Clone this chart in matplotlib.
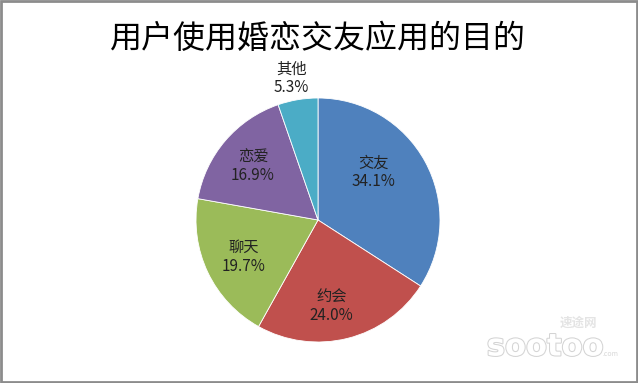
import numpy as np
import matplotlib
matplotlib.use("Agg")
import matplotlib.pyplot as plt
import matplotlib.patheffects as pe
from matplotlib.patches import Rectangle

plt.rcParams['font.family'] = ['Noto Sans CJK SC', 'DejaVu Sans']

# data
categories = ['交友', '约会', '聊天', '恋爱', '其他']
shares = [34.1, 24.0, 19.7, 16.9, 5.3]
colors = ['#4F81BD', '#C0504D', '#9BBB59', '#8064A2', '#4BACC6']
title = '用户使用婚恋交友应用的目的'

# label placement (radial fraction, angle tweak in degrees)
label_dist = [0.60, 0.72, 0.68, 0.69, 1.18]
label_turn = [12, -5, 1, 1, 1]

fig = plt.figure(figsize=(6.38, 3.83), dpi=100)
W, H = 638, 383
cx, cy, r = 318, 220, 122
ax = fig.add_axes([(cx - r) / W, (H - cy - r) / H, 2 * r / W, 2 * r / H])

wedges, _ = ax.pie(shares, colors=colors, startangle=90, counterclock=False,
                   radius=1, wedgeprops=dict(edgecolor='white', linewidth=0.6))
ax.set_xlim(-1, 1)
ax.set_ylim(-1, 1)
ax.set_aspect('equal')
ax.axis('off')

for w, name, val, d, t in zip(wedges, categories, shares, label_dist, label_turn):
    ang = np.deg2rad((w.theta1 + w.theta2) / 2 + t)
    ax.text(d * np.cos(ang), d * np.sin(ang), f'{name}\n{val:.1f}%',
            ha='center', va='center', fontsize=11, color='#222222',
            linespacing=1.1, clip_on=False)

fig.text(318 / W, 1 - 39 / H, title, ha='center', va='center', fontsize=23, color='black')

# watermark
fig.text(578 / W, 1 - 323 / H, '速途网', ha='center', va='center', fontsize=9,
         color='#e4e4e4', style='italic', fontweight='bold')
fig.text(545 / W, 1 - 347 / H, 'sootoo', ha='center', va='center', fontsize=22,
         color='white', fontweight='bold', family='DejaVu Sans',
         path_effects=[pe.withStroke(linewidth=1.5, foreground='#d4d4d4')])
fig.text(610 / W, 1 - 354 / H, '.com', ha='center', va='center', fontsize=5, color='#d8d8d8')

fig.patches.append(Rectangle((0.0015, 0.0025), 0.997, 0.995, transform=fig.transFigure,
                             fill=False, edgecolor='#8c8c8c', linewidth=2))

fig.savefig('out.png', dpi=100)
